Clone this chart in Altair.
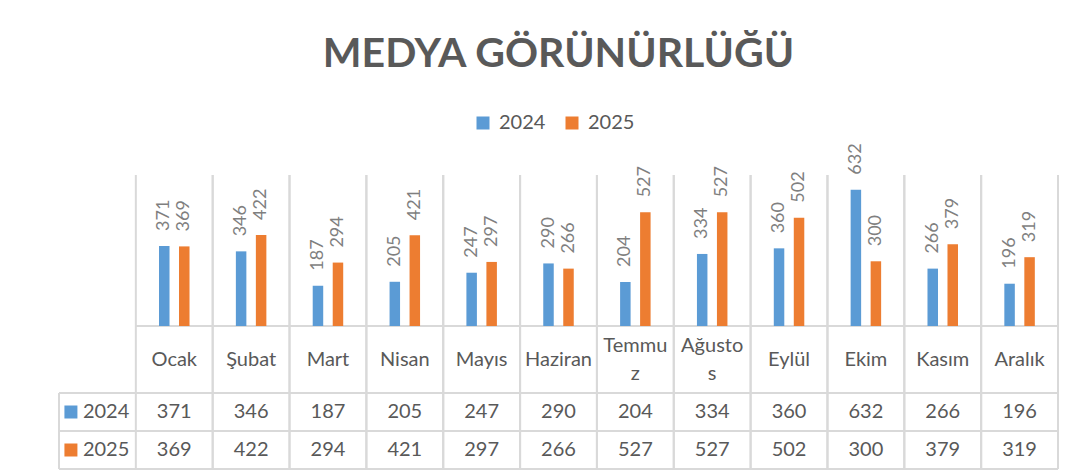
import altair as alt
import pandas as pd

# ---- data ----
months = ["Ocak", "Şubat", "Mart", "Nisan", "Mayıs", "Haziran",
          "Temmuz", "Ağustos", "Eylül", "Ekim", "Kasım", "Aralık"]
label_line1 = ["Ocak", "Şubat", "Mart", "Nisan", "Mayıs", "Haziran",
               "Temmu", "Ağusto", "Eylül", "Ekim", "Kasım", "Aralık"]
label_line2 = ["", "", "", "", "", "", "z", "s", "", "", "", ""]
years = ["2024", "2025"]
v2024 = [371, 346, 187, 205, 247, 290, 204, 334, 360, 632, 266, 196]
v2025 = [369, 422, 294, 421, 297, 266, 527, 527, 502, 300, 379, 319]
colors = ["#5B9BD5", "#ED7D31"]
title_text = "MEDYA GÖRÜNÜRLÜĞÜ"

long_df = pd.DataFrame({
    "month": months * 2,
    "year": ["2024"] * 12 + ["2025"] * 12,
    "value": v2024 + v2025,
})
df24 = long_df[long_df["year"] == "2024"]
df25 = long_df[long_df["year"] == "2025"]
month_df = pd.DataFrame({"month": months, "l1": label_line1, "l2": label_line2, "row": ["r"] * 12})
single_df = month_df[month_df["l2"] == ""]
wrap_df = month_df[month_df["l2"] != ""]
key_df = pd.DataFrame({"year": years, "k": ["key", "key"]})
key_last = key_df[key_df["year"] == years[-1]]
base_df = pd.DataFrame({"m1": [months[0]], "m2": [months[-1]], "value": [0]})
kb_df = pd.DataFrame({"k": ["key"], "a": [years[0]], "b": [years[-1]]})

# ---- style ----
GRID = "#D9D9D9"
TXT = "#595959"
LBL = "#7F7F7F"
FONT = "Lato"
W = 999          # 13 columns: key column + 12 months
H = 294          # bars (151) + category row (67) + two value rows (76)
HB = W / 13 / 2  # half column width
RH = 19          # half value-row height
DODGE = 10

xs = alt.Scale(domain=["key"] + months, paddingInner=0, paddingOuter=0)
yq_scale = alt.Scale(domain=[0, 700], range=[151, 0])
row_scale = alt.Scale(domain=["r"], range=[151, 218], paddingInner=0, paddingOuter=0)
ys = alt.Scale(domain=years, range=[218, 294], paddingInner=0, paddingOuter=0)
color_scale = alt.Scale(domain=years, range=colors)

xm = alt.X("month:N", scale=xs, axis=None)
yq = alt.Y("value:Q", scale=yq_scale, axis=None)
yrow = alt.Y("row:N", scale=row_scale, axis=None)
yyear = alt.Y("year:N", scale=ys, axis=None)

legend = alt.Legend(
    orient="none", legendX=414, legendY=-62, direction="horizontal",
    symbolType="square", symbolSize=169, symbolStrokeWidth=0,
    labelFont=FONT, labelFontSize=20, labelColor=TXT, labelOffset=6, columnPadding=16,
)


def rule(df, **kw):
    return alt.Chart(df).mark_rule(color=GRID, strokeWidth=2, **kw)


# grid / table lines
v_left = rule(month_df, xOffset=-HB).encode(x=xm)
v_right = rule(month_df, xOffset=HB).encode(x=xm)
baseline = rule(base_df, xOffset=-HB, x2Offset=HB).encode(
    x=alt.X("m1:N", scale=xs, axis=None), x2="m2:N", y=yq)
h_top = rule(key_df, yOffset=-RH).encode(y=yyear)
h_bot = rule(key_last, yOffset=RH).encode(y=yyear)
key_border = rule(kb_df, xOffset=-HB, yOffset=-RH, y2Offset=RH).encode(
    x=alt.X("k:N", scale=xs, axis=None), y=alt.Y("a:N", scale=ys, axis=None), y2="b:N")


def bar_layer(df, off):
    return alt.Chart(df).mark_bar(width=10.5, xOffset=off).encode(
        x=xm, y=yq,
        color=alt.Color("year:N", scale=color_scale, legend=legend, title=""),
    )


def label_layer(df, off):
    return alt.Chart(df).mark_text(
        angle=270, align="left", baseline="middle", dx=15, xOffset=off,
        font=FONT, fontSize=18, color=LBL,
    ).encode(x=xm, y=yq, text="value:Q")


def cat_layer(df, field, dy):
    return alt.Chart(df).mark_text(
        font=FONT, fontSize=20, color=TXT, baseline="middle", dy=dy,
    ).encode(x=xm, y=yrow, text=f"{field}:N")


val_text = alt.Chart(long_df).mark_text(
    font=FONT, fontSize=20, color=TXT, baseline="middle",
).encode(x=xm, y=yyear, text="value:Q")

key_sq = alt.Chart(key_df).mark_square(size=169, opacity=1, xOffset=-26.5).encode(
    x=alt.X("k:N", scale=xs, axis=None), y=yyear,
    fill=alt.Fill("year:N", scale=color_scale, legend=None),
)
key_txt = alt.Chart(key_df).mark_text(
    align="left", baseline="middle", font=FONT, fontSize=20, color=TXT, xOffset=-14.5,
).encode(x=alt.X("k:N", scale=xs, axis=None), y=yyear, text="year:N")

chart = alt.layer(
    v_left, v_right, baseline, h_top, h_bot, key_border,
    bar_layer(df24, -DODGE), bar_layer(df25, DODGE),
    label_layer(df24, -DODGE), label_layer(df25, DODGE),
    cat_layer(single_df, "l1", 0), cat_layer(wrap_df, "l1", -14), cat_layer(wrap_df, "l2", 14),
    val_text, key_sq, key_txt,
).resolve_scale(
    y="independent"
).properties(
    width=W, height=H,
    title=alt.Title(title_text, font=FONT, fontSize=41, fontWeight="bold", color=TXT,
                    anchor="middle", offset=37),
    padding={"left": 50, "top": 26, "right": 10, "bottom": 0},
    background="white",
).configure_view(stroke="transparent")

chart.save("out.html", embed_options={"renderer": "svg", "actions": False})
